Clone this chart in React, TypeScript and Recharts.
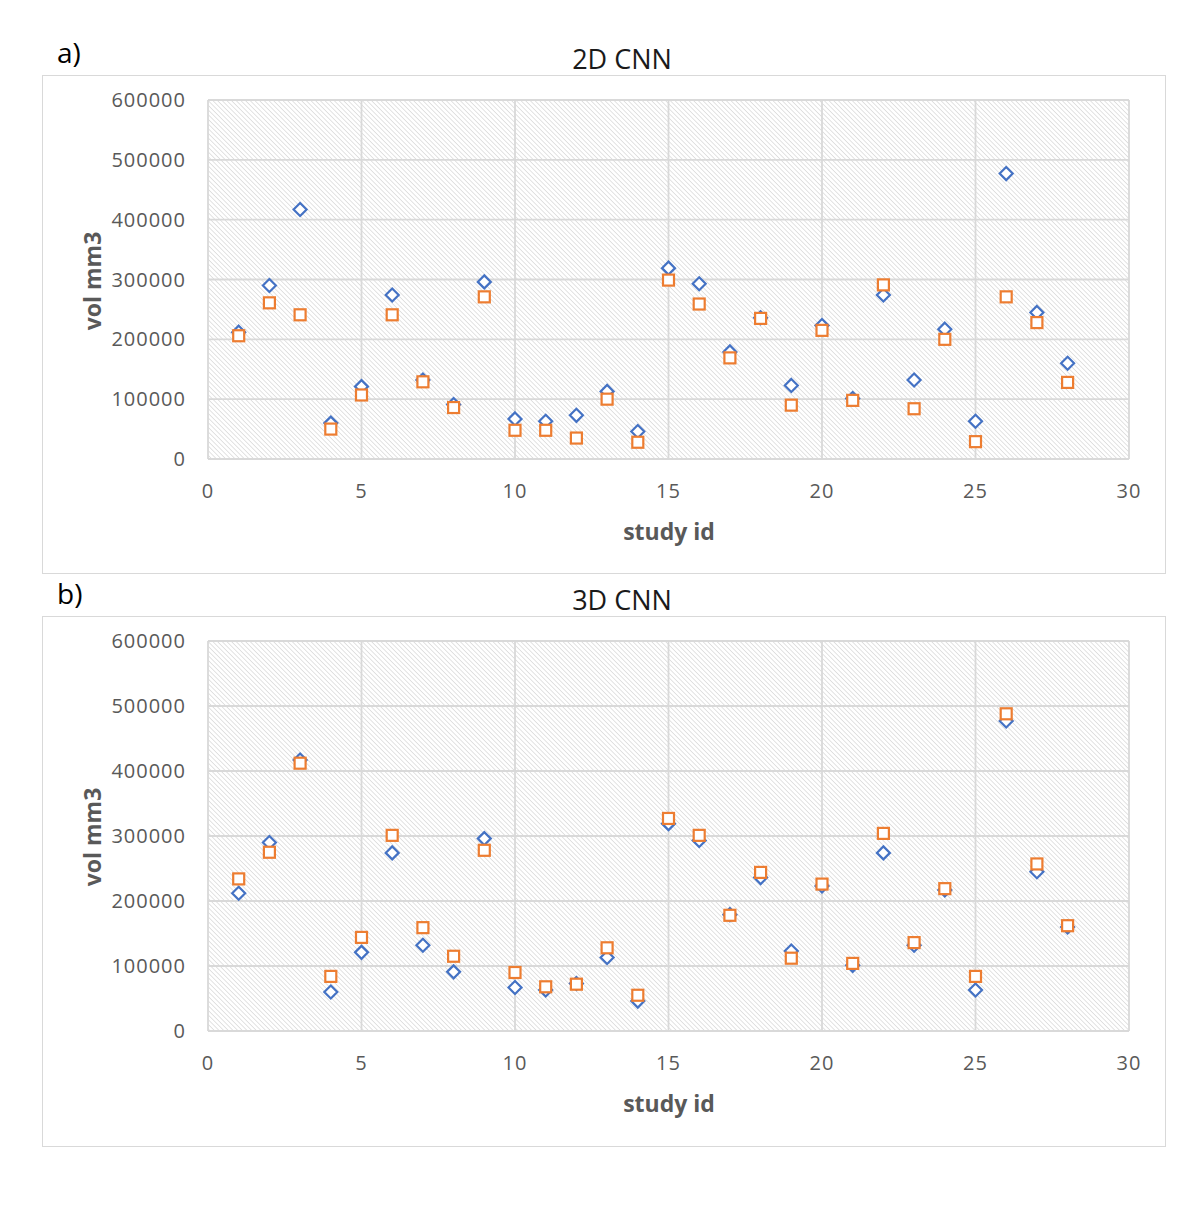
import React from "react";
import { ScatterChart, Scatter, XAxis, YAxis, CartesianGrid } from "recharts";

// study ids on the x axis
const studyIds = [
  1, 2, 3, 4, 5, 6, 7, 8, 9, 10, 11, 12, 13, 14, 15, 16, 17, 18, 19, 20, 21,
  22, 23, 24, 25, 26, 27, 28,
];

// reference volumes (blue diamonds), same in both panels
const referenceVol = [
  212000, 290000, 417000, 60000, 121000, 274000, 132000, 91000, 296000, 67000,
  63000, 73000, 113000, 46000, 319000, 293000, 179000, 236000, 123000, 223000,
  101000, 274000, 132000, 217000, 63000, 477000, 245000, 160000,
];

// predicted volumes (orange squares)
const cnn2dVol = [
  206000, 261000, 241000, 50000, 107000, 241000, 129000, 86000, 271000, 48000,
  48000, 35000, 100000, 28000, 299000, 259000, 169000, 235000, 90000, 215000,
  98000, 291000, 84000, 200000, 29000, 271000, 228000, 128000,
];

const cnn3dVol = [
  234000, 275000, 412000, 84000, 144000, 301000, 159000, 115000, 278000, 90000,
  68000, 72000, 128000, 55000, 327000, 301000, 178000, 244000, 112000, 226000,
  104000, 304000, 136000, 219000, 84000, 488000, 257000, 162000,
];

const xTicks = [0, 5, 10, 15, 20, 25, 30];
const yTicks = [0, 100000, 200000, 300000, 400000, 500000, 600000];

const FONT = '"Open Sans", "Noto Sans", sans-serif';
const GRID = "#d9d9d9";
const BLUE = "#4472C4";
const ORANGE = "#ED7D31";
const TEXT = "#595959";

const toPoints = (vals: number[]) =>
  studyIds.map((id, i) => ({ id, vol: vals[i] }));

const Diamond = (props: any) => {
  const { cx, cy } = props;
  if (cx == null || cy == null) return null;
  const r = 6.5;
  return (
    <polygon
      points={`${cx},${cy - r} ${cx + r},${cy} ${cx},${cy + r} ${cx - r},${cy}`}
      fill="#fff"
      stroke={BLUE}
      strokeWidth={2.2}
    />
  );
};

const Square = (props: any) => {
  const { cx, cy } = props;
  if (cx == null || cy == null) return null;
  const s = 11;
  return (
    <rect
      x={cx - s / 2}
      y={cy - s / 2}
      width={s}
      height={s}
      fill="#fff"
      stroke={ORANGE}
      strokeWidth={2.2}
    />
  );
};

interface PanelProps {
  id: string;
  letter: string;
  title: string;
  top: number; // page y of the box
  height: number;
  predicted: number[];
}

const Panel: React.FC<PanelProps> = ({ id, letter, title, top, height, predicted }) => {
  const width = 1124;
  const marginTop = 25;
  const marginBottom = height === 499 ? 115 : 116;
  const plotH = height - marginTop - marginBottom;
  const ref = toPoints(referenceVol);
  const pred = toPoints(predicted);

  return (
    <>
      <div
        style={{
          position: "absolute",
          left: 57 - 8,
          top: top - 8 - 43,
          fontFamily: FONT,
          fontSize: 28,
          color: "#000",
          lineHeight: "40px",
        }}
      >
        {letter}
      </div>
      <div
        style={{
          position: "absolute",
          left: 622 - 8,
          top: top - 8 - 17,
          transform: "translate(-50%, -50%)",
          fontFamily: FONT,
          fontSize: 27,
          color: "#1a1a1a",
          whiteSpace: "nowrap",
        }}
      >
        {title}
      </div>
      <div
        style={{
          position: "absolute",
          left: 42 - 8,
          top: top - 8,
          width,
          height,
          border: `1.5px solid ${GRID}`,
          boxSizing: "border-box",
          background: "#fff",
        }}
      >
        <div style={{ position: "absolute", left: -1.5, top: -1.5 }}>
          <ScatterChart
            width={width}
            height={height}
            margin={{ top: marginTop, right: 37, bottom: marginBottom - 60, left: 86 }}
          >
            <defs>
              <pattern
                id={id}
                width={3.3}
                height={3.3}
                patternUnits="userSpaceOnUse"
                patternTransform="rotate(-45)"
              >
                <rect width={3.3} height={3.3} fill="#fff" />
                <line x1={0} y1={0} x2={0} y2={3.3} stroke="#cdcdcd" strokeWidth={1.1} />
              </pattern>
            </defs>
            <CartesianGrid stroke={GRID} strokeWidth={1.8} fill={`url(#${id})`} fillOpacity={1} />
            <XAxis
              type="number"
              dataKey="id"
              domain={[0, 30]}
              ticks={xTicks}
              height={60}
              axisLine={false}
              tickLine={false}
              tickSize={0}
              tickMargin={25}
              tick={{ fill: TEXT, fontSize: 20, fontFamily: FONT, letterSpacing: 1 }}
            />
            <YAxis
              type="number"
              dataKey="vol"
              domain={[0, 600000]}
              ticks={yTicks}
              width={80}
              axisLine={false}
              tickLine={false}
              tickSize={0}
              tickMargin={22}
              tick={{ fill: TEXT, fontSize: 20, fontFamily: FONT, letterSpacing: 1 }}
            />
            <Scatter data={ref} shape={<Diamond />} isAnimationActive={false} />
            <Scatter data={pred} shape={<Square />} isAnimationActive={false} />
          </ScatterChart>
        </div>
        <div
          style={{
            position: "absolute",
            left: 90.7 - 42,
            top: marginTop + plotH / 2,
            transform: "translate(-50%, -50%) rotate(-90deg)",
            fontFamily: FONT,
            fontWeight: 700,
            fontSize: 23,
            color: TEXT,
            whiteSpace: "nowrap",
          }}
        >
          vol mm3
        </div>
        <div
          style={{
            position: "absolute",
            left: 668 - 42,
            top: marginTop + plotH + 71,
            transform: "translate(-50%, -50%)",
            fontFamily: FONT,
            fontWeight: 700,
            fontSize: 23,
            color: TEXT,
            whiteSpace: "nowrap",
          }}
        >
          study id
        </div>
      </div>
    </>
  );
};

export default function App() {
  return (
    <div style={{ position: "relative", width: 1180, height: 1194 }}>
      <Panel id="hatchA" letter="a)" title="2D CNN" top={75} height={499} predicted={cnn2dVol} />
      <Panel id="hatchB" letter="b)" title="3D CNN" top={616} height={531} predicted={cnn3dVol} />
    </div>
  );
}
